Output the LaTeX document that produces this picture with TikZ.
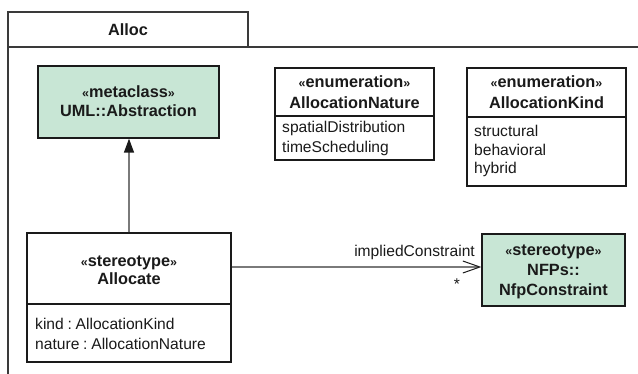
\documentclass[tikz,border=0pt]{standalone}
\usepackage{fontspec}
\setmainfont{Liberation Sans}
\usetikzlibrary{arrows.meta}
\definecolor{umlgreen}{HTML}{C8E6D5}
\definecolor{ink}{HTML}{1A1A1A}
\definecolor{wire}{HTML}{7A7A7A}
\definecolor{framec}{HTML}{3A3A3A}
\newcommand\glo{{\fontsize{12.5}{12.5}\selectfont «}}
\newcommand\glc{{\fontsize{12.5}{12.5}\selectfont »}}
\newcommand\csep{\hspace{3.8pt}:\hspace{3.8pt}}
\begin{document}
\begin{tikzpicture}[x=1pt,y=-1pt,
  box/.style={draw=ink,line width=1.3pt,inner sep=0pt},
  greenbox/.style={box,fill=umlgreen},
  divider/.style={draw=ink,line width=1.1pt},
  hd/.style={font=\bfseries\fontsize{16.3}{19}\selectfont,text=ink,anchor=base,inner sep=0pt},
  att/.style={font=\fontsize{15.6}{19}\selectfont,text=ink,anchor=base west,inner sep=0pt},
  lbl/.style={font=\fontsize{15.6}{19}\selectfont,text=ink,inner sep=0pt},
  framel/.style={draw=framec,line width=1.1pt},
  wireline/.style={draw=wire,line width=1.3pt}]
\useasboundingbox (0,0) rectangle (638,374);
% package frame
\draw[framel] (8,374) -- (8,12) -- (248,12) -- (248,47);
\draw[framel] (8,47) -- (638,47);
\node[hd] (title) at (128,36) {Alloc};
% metaclass
\node[greenbox,minimum width=181pt,minimum height=72pt] (abs) at (128.5,102) {};
\node[hd] (absst) at (128.5,98) {\glo metaclass\glc};
\node[hd] (absnm) at (128.5,117) {UML::Abstraction};
% AllocationNature
\node[box,fill=white,minimum width=159pt,minimum height=92pt] (nat) at (354.5,114) {};
\draw[divider] (275,116) -- (434,116);
\node[hd] (natst) at (354.5,88) {\glo enumeration\glc};
\node[hd] (natnm) at (354.5,109) {AllocationNature};
\node[att] (nat1) at (282,132.5) {spatialDistribution};
\node[att] (nat2) at (282,152.5) {timeScheduling};
% AllocationKind
\node[box,fill=white,minimum width=159pt,minimum height=118pt] (knd) at (546.5,127) {};
\draw[divider] (467,117) -- (626,117);
\node[hd] (kndst) at (546.5,88) {\glo enumeration\glc};
\node[hd] (kndnm) at (546.5,109) {AllocationKind};
\node[att] (knd1) at (474,137) {structural};
\node[att] (knd2) at (474,155.5) {behavioral};
\node[att] (knd3) at (474,174) {hybrid};
% Allocate
\node[box,fill=white,minimum width=204pt,minimum height=129pt] (alc) at (129,297.5) {};
\draw[divider] (27,304) -- (231,304);
\node[hd] (alcst) at (129,267) {\glo stereotype\glc};
\node[hd] (alcnm) at (129,285) {Allocate};
\node[att] (alc1) at (35,330) {kind\csep AllocationKind};
\node[att] (alc2) at (35,350) {nature\csep AllocationNature};
% NfpConstraint
\node[greenbox,minimum width=143pt,minimum height=72pt] (nfp) at (553.5,270) {};
\node[hd] (nfpst) at (553.5,256) {\glo stereotype\glc};
\node[hd] (nfpns) at (553.5,276) {NFPs::};
\node[hd] (nfpnm) at (553.5,296) {NfpConstraint};
% generalization
\draw[wireline,-{Triangle[length=14pt,width=10pt,color=ink,fill=ink]}] (alc.north) -- (alc.north |- abs.south);
% association
\draw[wireline,-{Straight Barb[length=17pt,width=12pt,color=ink,line width=1pt]}] ([yshift=30.5pt]alc.east) -- ([yshift=30.5pt]alc.east -| nfp.west);
\node[lbl,anchor=base east] (role) at (475,257) {impliedConstraint};
\node[lbl] (mult) at (457,284) {*};
\end{tikzpicture}
\end{document}
